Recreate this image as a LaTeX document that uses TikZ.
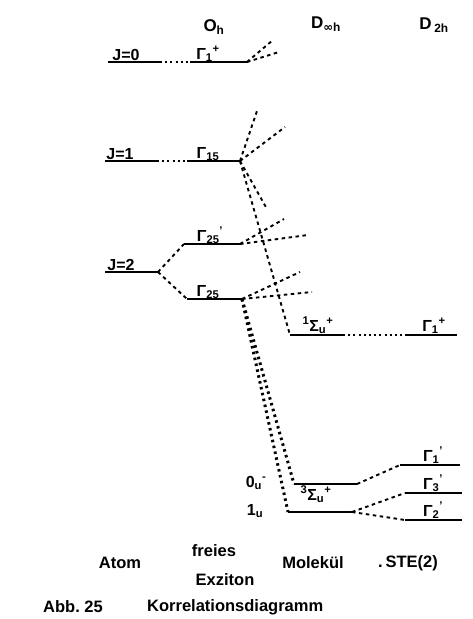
\documentclass[tikz,border=0pt]{standalone}
\usepackage{fontspec}
\setmainfont{Liberation Sans}
\newfontfamily\symfont{DejaVu Sans}
\newcommand\lvsub[2]{\textsubscript{#1}\textsuperscript{#2}}
\begin{document}
\begin{tikzpicture}[x=1pt,y=-1pt,
  lvl/.style={line width=1.8pt},
  dsh/.style={line width=1.9pt, dash pattern=on 3.5pt off 3.5pt},
  dts/.style={line width=1.8pt, dash pattern=on 2pt off 3.2pt},
  heavy/.style={line width=3pt, dash pattern=on 2.5pt off 3.5pt},
  lbl/.style={font=\bfseries\fontsize{16}{18}\selectfont, inner sep=0pt},
  hdr/.style={font=\bfseries\fontsize{17}{19}\selectfont, inner sep=0pt},
  txt/.style={font=\bfseries\fontsize{16.5}{18}\selectfont, inner sep=0pt}]
\fill[white] (0,0) rectangle (473,619);
\useasboundingbox (0,0) rectangle (473,619);

% headers
\node[hdr] (hOh) at (214,27) {O\textsubscript{h}};
\node[hdr] (hDinf) at (326,24) {D\textsubscript{{\symfont ∞}h}};
\node[hdr] (hDtwo) at (434,25) {D\,\textsubscript{2h}};

% coordinates
\coordinate (J0L) at (108,62);  \coordinate (J0R) at (160,62);
\coordinate (G1L) at (190,62);  \coordinate (G1R) at (247,62);
\coordinate (f01) at (273,40);  \coordinate (f02) at (279,52);
\coordinate (J1L) at (105,161); \coordinate (J1R) at (157,161);
\coordinate (G15L) at (187,161); \coordinate (G15R) at (240,161);
\coordinate (f11) at (258,108); \coordinate (f12) at (285,127); \coordinate (f13) at (267,209);
\coordinate (J2L) at (105,272); \coordinate (J2R) at (158,272);
\coordinate (G25pL) at (184,244); \coordinate (G25pR) at (240,244);
\coordinate (G25L) at (187,299); \coordinate (G25R) at (242,299);
\coordinate (f21) at (284,219); \coordinate (f22) at (308,235);
\coordinate (f31) at (300,272); \coordinate (f32) at (312,292);
\coordinate (S1L) at (290,335); \coordinate (S1R) at (343,335);
\coordinate (U1L) at (407,335); \coordinate (U1R) at (457,335);
\coordinate (OuL) at (294,484); \coordinate (OuR) at (357,484);
\coordinate (IuL) at (288,512); \coordinate (IuR) at (352,512);
\coordinate (T1L) at (400,465); \coordinate (T1R) at (460,465);
\coordinate (T3L) at (405,493); \coordinate (T3R) at (462,493);
\coordinate (T2L) at (405,520); \coordinate (T2R) at (462,520);

% levels
\draw[lvl] (J0L) -- (J0R);  \draw[lvl] (G1L) -- (G1R);
\draw[lvl] (J1L) -- (J1R);  \draw[lvl] (G15L) -- (G15R);
\draw[lvl] (J2L) -- (J2R);
\draw[lvl] (G25pL) -- (G25pR); \draw[lvl] (G25L) -- (G25R);
\draw[lvl] (S1L) -- (S1R); \draw[lvl] (U1L) -- (U1R);
\draw[lvl] (OuL) -- (OuR); \draw[lvl] (IuL) -- (IuR);
\draw[lvl] (T1L) -- (T1R); \draw[lvl] (T3L) -- (T3R); \draw[lvl] (T2L) -- (T2R);

% dotted links
\draw[dts] (J0R) -- (G1L);
\draw[dts] (J1R) -- (G15L);
\draw[dts] (S1R) -- (U1L);

% fans
\draw[dsh] (G1R) -- (f01);
\draw[dsh] (G1R) -- (f02);
\draw[dsh] (G15R) -- (f11);
\draw[dsh] (G15R) -- (f12);
\draw[dsh] (G15R) -- (f13);
\draw[dsh] (G15R) -- (S1L);
\draw[dsh] (J2R) -- (G25pL);
\draw[dsh] (J2R) -- (G25L);
\draw[dsh] (G25pR) -- (f21);
\draw[dsh] (G25pR) -- (f22);
\draw[dsh] (G25R) -- (f31);
\draw[dsh] (G25R) -- (f32);
\draw[heavy] (G25R) -- (OuL);
\draw[heavy] (G25R) -- (IuL);
\draw[dsh] (OuR) -- (T1L);
\draw[dsh] (IuR) -- (T3L);
\draw[dsh] (IuR) -- (T2L);

% level labels
\node[lbl, anchor=base] (lJ0) at (126,60) {J=0};
\node[lbl, anchor=base] (lJ1) at (120,159) {J=1};
\node[lbl, anchor=base] (lJ2) at (121,270) {J=2};
\node[lbl, anchor=base] (lG1) at (208,59) {Γ\lvsub{1}{+}};
\node[lbl, anchor=base] (lG15) at (208,158) {Γ\textsubscript{15}};
\node[lbl, anchor=base] (lG25p) at (210,241) {Γ\lvsub{25}{'}};
\node[lbl, anchor=base] (lG25) at (208,296) {Γ\textsubscript{25}};
\node[lbl, anchor=base] (lS1) at (318,331) {\textsuperscript{1}Σ\lvsub{u}{+}};
\node[lbl, anchor=base] (lU1) at (434,331) {Γ\lvsub{1}{+}};
\node[lbl, anchor=base] (lS3) at (316,500) {\textsuperscript{3}Σ\lvsub{u}{+}};
\node[lbl, anchor=base] (lOu) at (256,487) {0\lvsub{u}{-}};
\node[lbl, anchor=base] (lIu) at (255,515) {1\textsubscript{u}};
\node[lbl, anchor=base] (lT1) at (433,461) {Γ\lvsub{1}{'}};
\node[lbl, anchor=base] (lT3) at (433,489) {Γ\lvsub{3}{'}};
\node[lbl, anchor=base] (lT2) at (433,516) {Γ\lvsub{2}{'}};

% bottom labels
\node[txt] (atom) at (120,563) {Atom};
\node[txt] (frei) at (214,551) {freies};
\node[txt] (exz) at (225,580) {Exziton};
\node[txt] (mol) at (313,563) {Molekül};
\node[txt, anchor=west] (ste) at (378,563) {.\,STE(2)};
\node[txt, anchor=west] (abb) at (43,607) {Abb.\ 25};
\node[txt, anchor=west] (kor) at (147,607) {Korrelationsdiagramm};
\end{tikzpicture}
\end{document}
